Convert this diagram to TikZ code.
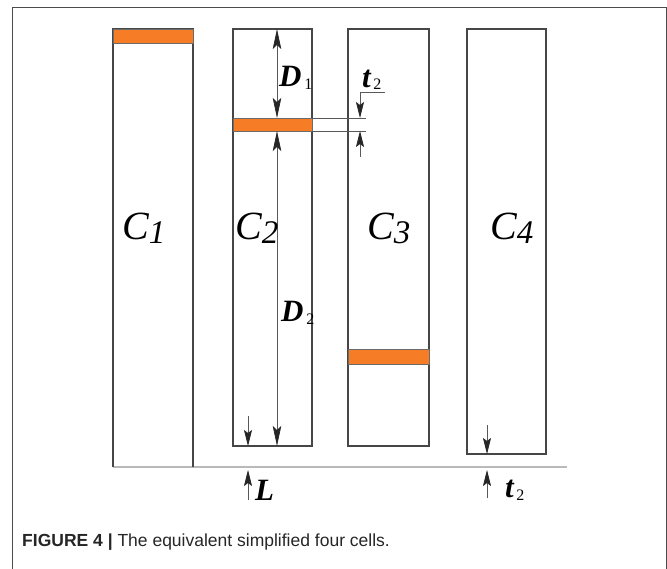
\documentclass[tikz,border=0pt]{standalone}
\usepackage{fontspec}
\setmainfont{Liberation Serif}
\setsansfont{Liberation Sans}
\usetikzlibrary{arrows.meta}
\definecolor{bar}{RGB}{247,124,38}
\definecolor{frame}{RGB}{70,70,70}
\definecolor{ground}{RGB}{185,185,185}
\begin{document}
\begin{tikzpicture}[x=1pt,y=-1pt,
  cell/.style={draw=frame,line width=1.4pt},
  barbox/.style={fill=bar,draw=frame!80,line width=0.6pt},
  dim/.style={draw=gray!70!black,line width=0.7pt},
  tip/.tip={Stealth[length=20pt,width=8.5pt,inset=4pt,fill=black!85,color=black!85]},
  stip/.tip={Stealth[length=16pt,width=8pt,inset=3pt,fill=black!85,color=black!85]},
  arr/.style={-tip},
  sarr/.style={-stip},
  darr/.style={tip-tip},
  clabel/.style={font=\fontsize{40}{42}\selectfont\itshape,anchor=base west},
  dlabel/.style={font=\fontsize{31}{32}\selectfont\bfseries\itshape,anchor=base west},
  every node/.style={inner sep=0pt}]
\useasboundingbox (0,0) rectangle (667,569);
\draw[gray!60!black,line width=0.8pt] (12,575) -- (12,7) -- (666,7) -- (666,575);
% ground
\draw[ground,line width=2.2pt] (113,467) -- (567,467);
% cells
\draw[cell] (113,467) -- (113,29) -- (193,29) -- (193,467);
\draw[barbox] (113,29) rectangle (193,43);
\draw[cell] (233,29) rectangle (312,446);
\draw[barbox] (233,118) rectangle (312,131);
\draw[cell] (348,29) rectangle (429,446);
\draw[barbox] (348,349) rectangle (429,364);
\draw[cell] (467,29) rectangle (546,454);
% coordinates
\coordinate (d1t) at (277,29);
\coordinate (d1b) at (277,118);
\coordinate (d2t) at (277,131);
\coordinate (d2b) at (277,446);
\coordinate (e1a) at (312,118);
\coordinate (e1b) at (366,118);
\coordinate (e2a) at (312,131);
\coordinate (e2b) at (366,131);
\coordinate (t2k) at (360,92);
\coordinate (t2h) at (385,92);
\coordinate (t2d) at (360,118);
\coordinate (t2u) at (360,131);
\coordinate (t2ub) at (360,157);
\coordinate (c2at) at (248,416);
\coordinate (c2ab) at (248,446);
\coordinate (lat) at (248,470);
\coordinate (lab) at (248,500);
\coordinate (c4at) at (487,425);
\coordinate (c4ab) at (487,454);
\coordinate (t4at) at (487,470);
\coordinate (t4ab) at (487,498);
% dims
\draw[dim,darr] (d1t) -- (d1b);
\draw[dim,darr] (d2t) -- (d2b);
\draw[dim] (e1a) -- (e1b);
\draw[dim] (e2a) -- (e2b);
\draw[dim,sarr] (t2h) -- (t2k) -- (t2d);
\draw[dim,sarr] (t2ub) -- (t2u);
\draw[dim,sarr] (c2at) -- (c2ab);
\draw[dim,sarr] (lab) -- (lat);
\draw[dim,sarr] (c4at) -- (c4ab);
\draw[dim,sarr] (t4ab) -- (t4at);
% labels
\node[clabel] (c1) at (122,240) {C\raisebox{-4pt}{\fontsize{33}{33}\selectfont 1}};
\node[clabel] (c2) at (235,240) {C\raisebox{-4pt}{\fontsize{33}{33}\selectfont 2}};
\node[clabel] (c3) at (367,240) {C\raisebox{-4pt}{\fontsize{33}{33}\selectfont 3}};
\node[clabel] (c4) at (490,240) {C\raisebox{-4pt}{\fontsize{33}{33}\selectfont 4}};
\node[dlabel] (D1) at (279,87) {D\raisebox{-3pt}{\fontsize{16}{16}\selectfont\upshape\mdseries\,1}};
\node[dlabel] (D2) at (281,322) {D\raisebox{-3pt}{\fontsize{16}{16}\selectfont\upshape\mdseries\,2}};
\node[dlabel] (T2a) at (362,88) {t\raisebox{-2pt}{\fontsize{16}{16}\selectfont\upshape\mdseries\,2}};
\node[dlabel] (L) at (255,500) {L};
\node[dlabel] (T2b) at (505,497) {t\raisebox{-3pt}{\fontsize{16}{16}\selectfont\upshape\mdseries\,2}};
\node[anchor=west,font=\sffamily\fontsize{17.5}{19}\selectfont,text=black!85] (cap) at (22,542)
  {\textbf{FIGURE 4} \textbf{|} The equivalent simplified four cells.};
\end{tikzpicture}
\end{document}
